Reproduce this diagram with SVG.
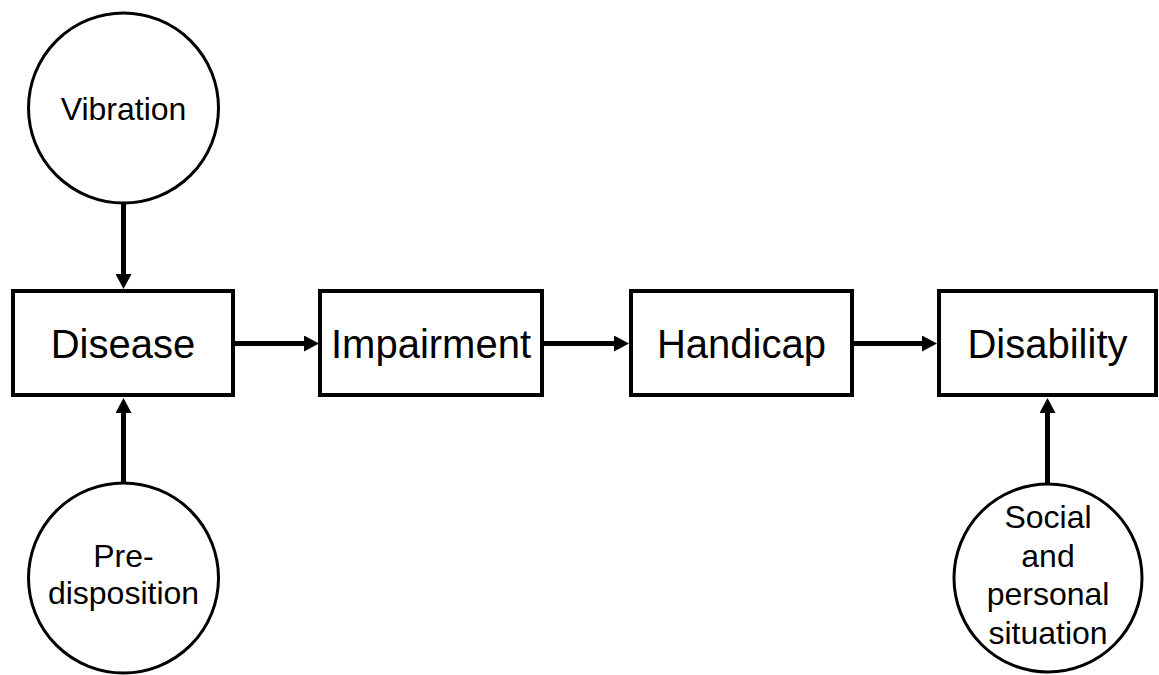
<svg xmlns="http://www.w3.org/2000/svg" width="1159" height="675" viewBox="0 0 1159 675">
  <style>
    .box { fill: #ffffff; stroke: #000000; stroke-width: 4; }
    .ring { fill: #ffffff; stroke: #000000; stroke-width: 3; }
    .label { font-family: "Liberation Sans", Arial, sans-serif; fill: #000000; text-anchor: middle; }
    .big { font-size: 40px; }
    .small { font-size: 32px; }
    .link { stroke: #000000; stroke-width: 5; fill: none; marker-end: url(#head); }
  </style>
  <defs>
    <marker id="head" viewBox="0 0 15 16" refX="1" refY="8" markerWidth="15" markerHeight="16" markerUnits="userSpaceOnUse" orient="auto">
      <path d="M0,0 L15,8 L0,16 Z" fill="#000000"/>
    </marker>
  </defs>

  <g id="connectors">
    <line class="link" x1="123.5" y1="203" x2="123.5" y2="275"/>
    <line class="link" x1="123.5" y1="482" x2="123.5" y2="412"/>
    <line class="link" x1="235" y1="343.5" x2="305" y2="343.5"/>
    <line class="link" x1="544" y1="343.5" x2="615" y2="343.5"/>
    <line class="link" x1="854" y1="343.5" x2="923" y2="343.5"/>
    <line class="link" x1="1047.5" y1="483" x2="1047.5" y2="412"/>
  </g>

  <g id="vibration">
    <circle class="ring" cx="123.5" cy="108" r="95"/>
    <text class="label small" x="123.5" y="120">Vibration</text>
  </g>

  <g id="predisposition">
    <circle class="ring" cx="123.5" cy="578" r="95"/>
    <text class="label small" x="123.5" y="567">Pre-</text>
    <text class="label small" x="123.5" y="604">disposition</text>
  </g>

  <g id="social">
    <circle class="ring" cx="1048" cy="578" r="94"/>
    <text class="label small" x="1048" y="528">Social</text>
    <text class="label small" x="1048" y="567">and</text>
    <text class="label small" x="1048" y="605">personal</text>
    <text class="label small" x="1048" y="644">situation</text>
  </g>

  <g id="disease">
    <rect class="box" x="13" y="291" width="220" height="104"/>
    <text class="label big" x="123" y="358">Disease</text>
  </g>

  <g id="impairment">
    <rect class="box" x="320" y="291" width="222" height="104"/>
    <text class="label big" x="431" y="358">Impairment</text>
  </g>

  <g id="handicap">
    <rect class="box" x="631" y="291" width="221" height="104"/>
    <text class="label big" x="741.5" y="358">Handicap</text>
  </g>

  <g id="disability">
    <rect class="box" x="939" y="291" width="217" height="104"/>
    <text class="label big" x="1047.5" y="358">Disability</text>
  </g>
</svg>
